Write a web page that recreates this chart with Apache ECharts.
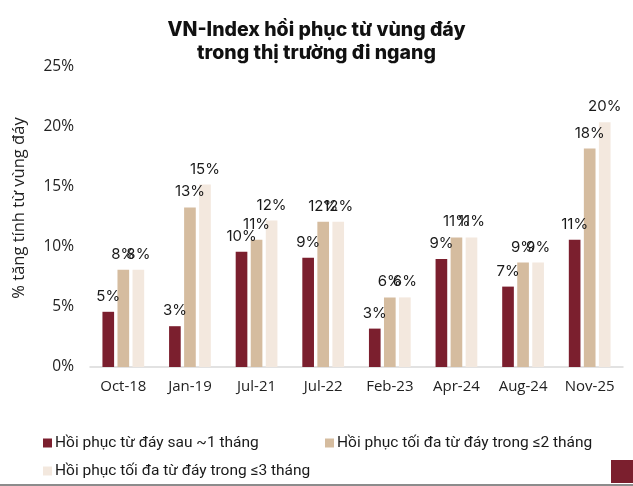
<!DOCTYPE html>
<html>
<head>
<meta charset="utf-8">
<script src="https://cdn.jsdelivr.net/npm/echarts@6/dist/echarts.min.js"></script>
<style>
  html, body { margin: 0; padding: 0; background: #fff; }
  #chart { width: 633px; height: 486px; }
</style>
</head>
<body>
<div id="chart"></div>
<script>
// dữ liệu
var categories = ['Oct-18', 'Jan-19', 'Jul-21', 'Jul-22', 'Feb-23', 'Apr-24', 'Aug-24', 'Nov-25'];
var seriesNames = [
  'Hồi phục từ đáy sau ~1 tháng',
  'Hồi phục tối đa từ đáy trong ≤2 tháng',
  'Hồi phục tối đa từ đáy trong ≤3 tháng'
];
var after1m = [4.6, 3.4, 9.6, 9.1, 3.2, 9.0, 6.7, 10.6];
var max2m = [8.1, 13.3, 10.6, 12.1, 5.8, 10.8, 8.7, 18.2];
var max3m = [8.1, 15.2, 12.2, 12.1, 5.8, 10.8, 8.7, 20.4];
var yTicks = [0, 5, 10, 15, 20, 25];

var colors = ['#7B1F2E', '#D5BC9F', '#F3E8DE'];

var chart = echarts.init(document.getElementById('chart'));

function makeSeries(name, data, color) {
  return {
    name: name,
    type: 'bar',
    data: data,
    barWidth: '17.5%',
    barGap: '29%',
    itemStyle: { color: color },
    label: {
      show: true,
      position: 'top',
      distance: 8,
      fontFamily: 'Inter',
      fontSize: 15,
      color: '#1a1a1a',
      formatter: function (p) { return Math.round(p.value) + '%'; }
    }
  };
}

function legendItem(name, left, top) {
  return {
    data: [name],
    left: left,
    top: top,
    icon: 'rect',
    itemWidth: 9,
    itemHeight: 9,
    selectedMode: false,
    textStyle: {
      fontFamily: 'Roboto',
      fontSize: 15.5,
      color: '#1a1a1a',
      padding: [0, 0, 0, -2]
    }
  };
}

var option = {
  animation: false,
  color: colors,
  title: {
    text: 'VN-Index hồi phục từ vùng đáy\ntrong thị trường đi ngang',
    left: 'center',
    top: 14,
    textStyle: {
      fontFamily: 'Inter',
      fontWeight: 800,
      fontSize: 19.5,
      lineHeight: 23,
      color: '#111'
    }
  },
  legend: [
    legendItem(seriesNames[0], 38, 430),
    legendItem(seriesNames[1], 320, 430),
    legendItem(seriesNames[2], 38, 458)
  ],
  grid: { left: 90, right: 10, top: 67, bottom: 119, outerBoundsMode: 'none' },
  xAxis: {
    type: 'category',
    data: categories,
    axisTick: { show: false },
    axisLine: { lineStyle: { color: '#D9D9D9', width: 1.5 } },
    axisLabel: {
      fontFamily: 'Open Sans',
      fontSize: 15,
      color: '#222',
      margin: 12
    }
  },
  yAxis: {
    type: 'value',
    min: yTicks[0],
    max: yTicks[yTicks.length - 1],
    interval: yTicks[1] - yTicks[0],
    name: '% tăng tính từ vùng đáy',
    nameLocation: 'middle',
    nameRotate: 90,
    nameGap: 62,
    nameTextStyle: {
      fontFamily: 'Open Sans',
      fontSize: 16.5,
      color: '#222',
      padding: [0, 0, 0, 18]
    },
    splitLine: { show: false },
    axisLine: { show: false },
    axisTick: { show: false },
    axisLabel: {
      fontFamily: 'Open Sans',
      fontSize: 15.5,
      color: '#222',
      margin: 16,
      formatter: '{value}%'
    }
  },
  graphic: [
    { type: 'rect', left: 611, top: 460, shape: { width: 22, height: 23 }, style: { fill: '#7B1F2E' } },
    { type: 'rect', left: 0, top: 484, shape: { width: 633, height: 2 }, style: { fill: '#8C8C8C' } }
  ],
  series: [
    makeSeries(seriesNames[0], after1m, colors[0]),
    makeSeries(seriesNames[1], max2m, colors[1]),
    makeSeries(seriesNames[2], max3m, colors[2])
  ]
};

chart.setOption(option);
</script>
</body>
</html>
